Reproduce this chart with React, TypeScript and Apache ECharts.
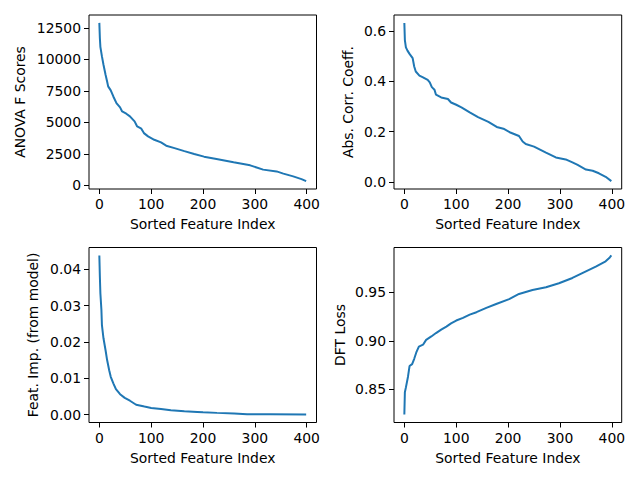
import React, { useEffect, useRef } from "react";
import * as echarts from "echarts";

// Sorted feature index (x) and values
const xTicks = [0, 100, 200, 300, 400];

const anovaIdx = [0, 1, 2, 5, 8, 12, 15, 17, 22, 27, 33, 40, 44, 52, 59, 68, 73, 81, 86, 94, 106, 119, 129, 145, 164, 183, 202, 226, 259, 291, 316, 342, 355, 374, 390, 399];
const anovaVal = [12900, 11700, 11000, 10240, 9580, 8780, 8250, 7860, 7540, 7060, 6530, 6190, 5870, 5690, 5480, 5080, 4680, 4500, 4150, 3890, 3620, 3410, 3150, 2960, 2720, 2490, 2280, 2090, 1830, 1590, 1250, 1110, 930, 715, 500, 340];
const anovaTicks = [0, 2500, 5000, 7500, 10000, 12500];

const corrIdx = [0, 1, 3, 6, 10, 16, 19, 22, 29, 35, 45, 49, 53, 58, 61, 71, 84, 90, 100, 110, 126, 142, 162, 178, 191, 203, 221, 228, 234, 250, 273, 292, 311, 324, 334, 350, 363, 375, 388, 399];
const corrVal = [0.632, 0.564, 0.535, 0.522, 0.509, 0.492, 0.459, 0.439, 0.423, 0.417, 0.406, 0.396, 0.377, 0.367, 0.347, 0.336, 0.330, 0.316, 0.307, 0.297, 0.277, 0.258, 0.239, 0.219, 0.212, 0.198, 0.183, 0.161, 0.151, 0.141, 0.117, 0.098, 0.090, 0.078, 0.068, 0.050, 0.045, 0.035, 0.021, 0.004];
const corrTicks = [0, 0.2, 0.4, 0.6];

const impIdx = [0, 1, 2, 4, 5, 8, 12, 15, 19, 22, 27, 32, 40, 49, 59, 71, 87, 100, 119, 138, 164, 189, 200, 227, 260, 285, 330, 399];
const impVal = [0.0438, 0.038, 0.0334, 0.0288, 0.0246, 0.021, 0.0177, 0.015, 0.0122, 0.0104, 0.0086, 0.007, 0.0056, 0.0046, 0.0038, 0.0027, 0.0022, 0.0018, 0.0015, 0.0012, 0.0009, 0.0007, 0.0006, 0.00046, 0.0003, 0.0001, 0.00005, 0.0];
const impTicks = [0, 0.01, 0.02, 0.03, 0.04];

const dftIdx = [0, 1, 3, 7, 10, 15, 19, 23, 28, 36, 42, 52, 61, 71, 81, 90, 100, 113, 126, 139, 158, 177, 202, 221, 247, 273, 298, 324, 350, 369, 388, 396, 399];
const dftVal = [0.824, 0.847, 0.852, 0.863, 0.874, 0.876, 0.8815, 0.888, 0.894, 0.896, 0.901, 0.9045, 0.908, 0.9116, 0.9147, 0.918, 0.9209, 0.9236, 0.927, 0.9295, 0.934, 0.938, 0.943, 0.9483, 0.9524, 0.9552, 0.9593, 0.9648, 0.9716, 0.9765, 0.982, 0.986, 0.988];
const dftTicks = [0.85, 0.9, 0.95];

const xName = "Sorted Feature Index";

function padRange(vals: number[]): [number, number] {
  const lo = Math.min(...vals);
  const hi = Math.max(...vals);
  const p = (hi - lo) * 0.05;
  return [lo - p, hi + p];
}

const FONT = "DejaVu Sans";
const FS = 13.9;

export default function App() {
  const ref = useRef<HTMLDivElement>(null);
  useEffect(() => {
    document.body.style.margin = "0";
    const chart = echarts.init(ref.current!, null, { renderer: "svg" });
    const panels = [
      { idx: anovaIdx, val: anovaVal, ticks: anovaTicks, fmt: (v: number) => String(Math.round(v)), name: "ANOVA F Scores", gap: 62, grid: { left: 89, top: 15, width: 227.5, height: 174 } },
      { idx: corrIdx, val: corrVal, ticks: corrTicks, fmt: (v: number) => v.toFixed(1), name: "Abs. Corr. Coeff.", gap: 39, grid: { left: 394, top: 15, width: 227.7, height: 174 } },
      { idx: impIdx, val: impVal, ticks: impTicks, fmt: (v: number) => v.toFixed(2), name: "Feat. Imp. (from model)", gap: 49, grid: { left: 89, top: 247.5, width: 227.5, height: 175 } },
      { idx: dftIdx, val: dftVal, ticks: dftTicks, fmt: (v: number) => v.toFixed(2), name: "DFT Loss", gap: 47, grid: { left: 394, top: 247.5, width: 227.7, height: 175 } },
    ];
    const textStyle = { fontFamily: FONT, fontSize: FS, color: "#000" };
    const grids: any[] = [];
    const xAxes: any[] = [];
    const yAxes: any[] = [];
    const series: any[] = [];
    panels.forEach((p, i) => {
      grids.push({ ...p.grid, show: true, borderColor: "#000", borderWidth: 1, backgroundColor: "transparent" });
      const [xmin, xmax] = padRange(p.idx);
      const [ymin, ymax] = padRange(p.val);
      xAxes.push({
        type: "value",
        gridIndex: i,
        min: xmin,
        max: xmax,
        axisLine: { show: false, onZero: false },
        axisTick: { show: true, customValues: xTicks, length: 5, lineStyle: { color: "#000", width: 1 } },
        axisLabel: { customValues: xTicks, margin: 8, ...textStyle, formatter: (v: number) => String(v) },
        splitLine: { show: false },
        name: xName,
        nameLocation: "middle",
        nameGap: 28,
        nameTextStyle: textStyle,
      });
      yAxes.push({
        type: "value",
        gridIndex: i,
        min: ymin,
        max: ymax,
        axisLine: { show: false, onZero: false },
        axisTick: { show: true, customValues: p.ticks, length: 5, lineStyle: { color: "#000", width: 1 } },
        axisLabel: { customValues: p.ticks, margin: 8, ...textStyle, formatter: p.fmt },
        splitLine: { show: false },
        name: p.name,
        nameLocation: "middle",
        nameGap: p.gap,
        nameTextStyle: textStyle,
      });
      series.push({
        type: "line",
        xAxisIndex: i,
        yAxisIndex: i,
        data: p.idx.map((x, k) => [x, p.val[k]]),
        showSymbol: false,
        symbol: "none",
        lineStyle: { color: "#1f77b4", width: 2 },
        itemStyle: { color: "#1f77b4" },
      });
    });
    chart.setOption({
      animation: false,
      backgroundColor: "#fff",
      grid: grids,
      xAxis: xAxes,
      yAxis: yAxes,
      series,
    });
    return () => chart.dispose();
  }, []);
  return <div ref={ref} style={{ width: 640, height: 480 }} />;
}
